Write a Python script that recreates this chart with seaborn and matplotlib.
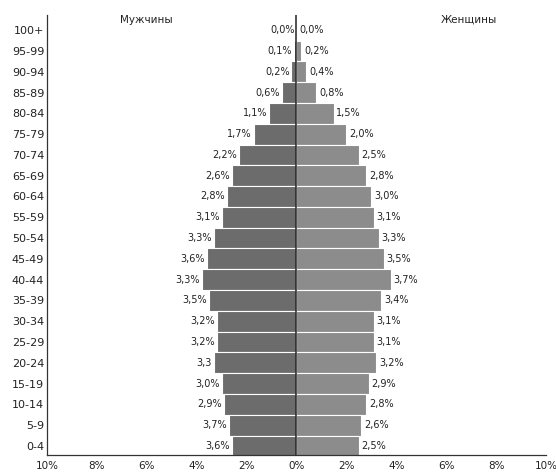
import numpy as np
import pandas as pd
import matplotlib
matplotlib.use('Agg')
import matplotlib.pyplot as plt
import seaborn as sns

# age groups, top to bottom
ages = ['100+', '95-99', '90-94', '85-89', '80-84', '75-79', '70-74', '65-69',
        '60-64', '55-59', '50-54', '45-49', '40-44', '35-39', '30-34', '25-29',
        '20-24', '15-19', '10-14', '5-9', '0-4']

# bar lengths (% of population)
male = [0.0, 0.1, 0.2, 0.6, 1.1, 1.7, 2.3, 2.6, 2.8, 3.0, 3.3, 3.6, 3.8, 3.5,
        3.2, 3.2, 3.3, 3.0, 2.9, 2.7, 2.6]
female = [0.0, 0.2, 0.4, 0.8, 1.5, 2.0, 2.5, 2.8, 3.0, 3.1, 3.3, 3.5, 3.8, 3.4,
          3.1, 3.1, 3.2, 2.9, 2.8, 2.6, 2.5]

# labels as printed on the chart
male_labels = ['0,0%', '0,1%', '0,2%', '0,6%', '1,1%', '1,7%', '2,2%', '2,6%',
               '2,8%', '3,1%', '3,3%', '3,6%', '3,3%', '3,5%', '3,2%', '3,2%',
               '3,3', '3,0%', '2,9%', '3,7%', '3,6%']
female_labels = ['0,0%', '0,2%', '0,4%', '0,8%', '1,5%', '2,0%', '2,5%', '2,8%',
                 '3,0%', '3,1%', '3,3%', '3,5%', '3,7%', '3,4%', '3,1%', '3,1%',
                 '3,2%', '2,9%', '2,8%', '2,6%', '2,5%']

xticks = [-10, -8, -6, -4, -2, 0, 2, 4, 6, 8, 10]

sns.set_style('white')
plt.rcParams['font.family'] = ['DejaVu Sans']

df_m = pd.DataFrame({'age': ages, 'pct': [-v for v in male]})
df_f = pd.DataFrame({'age': ages, 'pct': female})

fig = plt.figure(figsize=(5.56, 4.73), dpi=100)
ax = fig.add_axes([0.0845, 0.038, 0.8975, 0.93])

sns.barplot(data=df_m, x='pct', y='age', order=ages, orient='h', color='#6c6c6c',
            width=1.0, edgecolor='white', linewidth=0.8, saturation=1, ax=ax)
sns.barplot(data=df_f, x='pct', y='age', order=ages, orient='h', color='#8c8c8c',
            width=1.0, edgecolor='white', linewidth=0.8, saturation=1, ax=ax)

ax.axvline(0, color='#222222', lw=1.1, zorder=5)

for i in range(len(ages)):
    ax.text(-male[i] - 0.08, i, male_labels[i], ha='right', va='center',
            fontsize=7, color='#222222')
    ax.text(female[i] + 0.1, i, female_labels[i], ha='left', va='center',
            fontsize=7, color='#222222')

ax.text(-6.0, -0.5, 'Мужчины', ha='center', va='center', fontsize=7.5, color='#222222')
ax.text(6.9, -0.5, 'Женщины', ha='center', va='center', fontsize=7.5, color='#222222')

ax.set_xlim(-10, 10)
ax.set_ylim(20.43, -0.72)
ax.set_xticks(xticks)
ax.set_xticklabels([f'{abs(t)}%' for t in xticks])
ax.set_xlabel('')
ax.set_ylabel('')
ax.tick_params(axis='x', direction='in', length=3, width=0.8, labelsize=7.5,
               colors='#222222', pad=4)
ax.tick_params(axis='y', length=0, labelsize=8, colors='#222222', pad=2)

sns.despine(ax=ax)
for s in ['left', 'bottom']:
    ax.spines[s].set_color('#333333')
    ax.spines[s].set_linewidth(0.9)

fig.savefig('out.png', dpi=100)
